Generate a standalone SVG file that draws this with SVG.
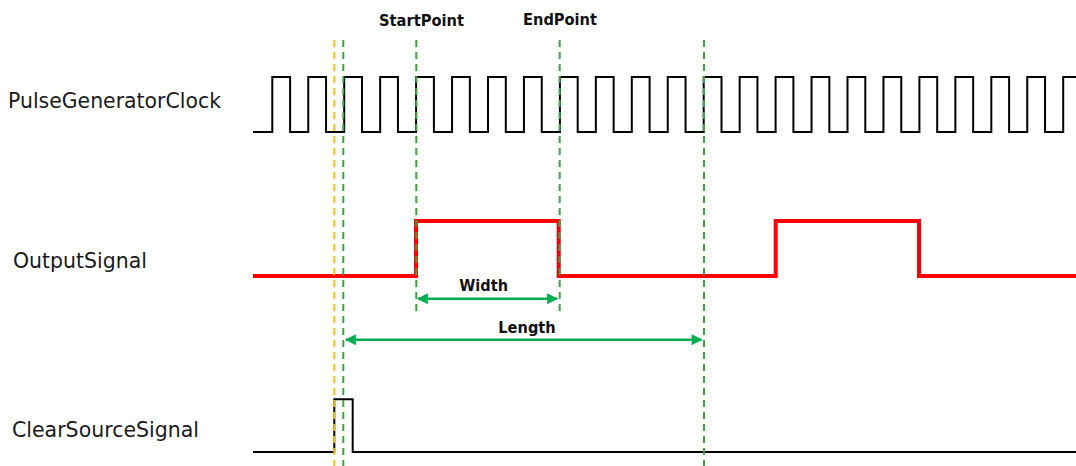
<svg xmlns="http://www.w3.org/2000/svg" width="1076" height="466" viewBox="0 0 1076 466">
<defs>
<style>
.lbl{font-family:"DejaVu Sans","Liberation Sans",sans-serif;font-size:20.5px;fill:#1a1a1a}
.blbl{font-family:"DejaVu Sans","Liberation Sans",sans-serif;font-size:16px;font-weight:bold;fill:#111}
.clk{fill:none;stroke:#000;stroke-width:2}
.out{fill:none;stroke:#ff0000;stroke-width:4}
.gd{stroke:#3fa33f;stroke-width:2;stroke-dasharray:7,5;fill:none}
.od{stroke:#ffc000;stroke-width:2;stroke-dasharray:7,5;fill:none}
.arr{stroke:#00b050;stroke-width:2.5;fill:none;marker-start:url(#ah);marker-end:url(#ah)}
</style>
<marker id="ah" viewBox="0 0 10 10" refX="9" refY="5" markerWidth="13" markerHeight="11" markerUnits="userSpaceOnUse" orient="auto-start-reverse">
<path d="M0,0 L10,5 L0,10 Z" fill="#00b050"/>
</marker>
</defs>
<rect width="1076" height="466" fill="#fff"/>

<g id="label-clock"><text class="lbl" x="8" y="108" textLength="213" lengthAdjust="spacingAndGlyphs">PulseGeneratorClock</text></g>
<g id="label-output"><text class="lbl" x="13" y="268" textLength="134" lengthAdjust="spacingAndGlyphs">OutputSignal</text></g>
<g id="label-clear"><text class="lbl" x="12" y="437" textLength="187" lengthAdjust="spacingAndGlyphs">ClearSourceSignal</text></g>

<g id="clock-signal">
<path class="clk" d="M253,132 H272.3 V77 H290.1 V132 H308.25 V77 H326.05 V132 H344.2 V77 H362 V132 H380.15 V77 H397.95 V132 H416.1 V77 H433.9 V132 H452.05 V77 H469.85 V132 H488 V77 H505.8 V132 H523.95 V77 H541.75 V132 H559.9 V77 H577.7 V132 H595.85 V77 H613.65 V132 H631.8 V77 H649.6 V132 H667.75 V77 H685.55 V132 H703.7 V77 H721.5 V132 H739.65 V77 H757.45 V132 H775.6 V77 H793.4 V132 H811.55 V77 H829.35 V132 H847.5 V77 H865.3 V132 H883.45 V77 H901.25 V132 H919.4 V77 H937.2 V132 H955.35 V77 H973.15 V132 H991.3 V77 H1009.1 V132 H1027.25 V77 H1045.05 V132 H1063.2 V77 H1076"/>
</g>

<g id="output-signal">
<path class="out" d="M253,276 H416 V221 H558.7 V276 H775.7 V221 H919 V276 H1076"/>
</g>

<g id="clear-source-signal">
<path class="clk" d="M253,452 H334.3 V399.3 H352.7 V452 H1076"/>
</g>

<g id="markers">
<line class="od" x1="334.3" y1="40" x2="334.3" y2="466"/>
<line class="gd" x1="343.3" y1="40" x2="343.3" y2="466"/>
<line class="gd" x1="416.3" y1="40" x2="416.3" y2="315"/>
<line class="gd" x1="559.7" y1="40" x2="559.7" y2="312"/>
<line class="gd" x1="704" y1="40" x2="704" y2="466"/>
</g>

<g id="label-startpoint"><text class="blbl" x="379" y="26" textLength="85" lengthAdjust="spacingAndGlyphs">StartPoint</text></g>
<g id="label-endpoint"><text class="blbl" x="523" y="25" textLength="74" lengthAdjust="spacingAndGlyphs">EndPoint</text></g>

<g id="connectors">
<line class="arr" x1="418" y1="298.7" x2="557" y2="298.7"/>
<line class="arr" x1="346" y1="339.7" x2="701.5" y2="339.7"/>
</g>

<g id="label-width"><text class="blbl" x="459.3" y="290.5" textLength="48.7" lengthAdjust="spacingAndGlyphs">Width</text></g>
<g id="label-length"><text class="blbl" x="498.3" y="333" textLength="57.4" lengthAdjust="spacingAndGlyphs">Length</text></g>
</svg>
